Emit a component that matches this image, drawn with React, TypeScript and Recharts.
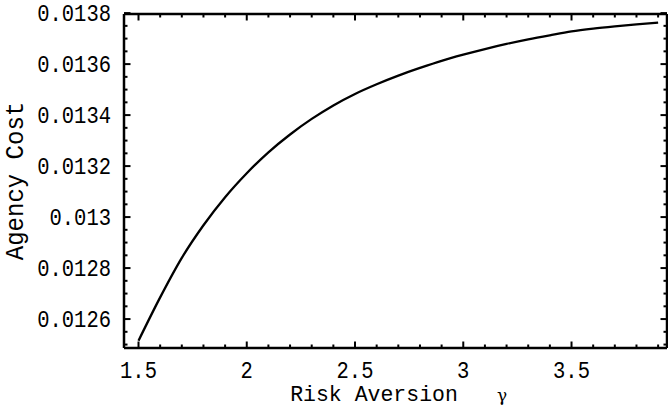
import React from 'react'
import { LineChart, Line, XAxis, YAxis } from 'recharts'

// risk aversion gamma vs agency cost
const GAMMA = [1.5, 1.6, 1.7, 1.8, 1.9, 2.0, 2.1, 2.2, 2.3, 2.4, 2.5, 2.6, 2.7, 2.8, 2.9, 3.0, 3.1, 3.2, 3.3, 3.4, 3.5, 3.6, 3.7, 3.8, 3.9]
const COST = [
  0.012515, 0.012685, 0.01284, 0.012968, 0.013078, 0.013172, 0.013254, 0.013324, 0.013385, 0.013438,
  0.013483, 0.013521, 0.013555, 0.013585, 0.013613, 0.013637, 0.013659, 0.013679, 0.013697, 0.013713,
  0.013728, 0.013739, 0.013748, 0.013756, 0.013763,
]

const X_MAJOR = [1.5, 2, 2.5, 3, 3.5]
const X_LABELS = ['1.5', '2', '2.5', '3', '3.5']
const X_TICKS = [1.5, 1.6, 1.7, 1.8, 1.9, 2, 2.1, 2.2, 2.3, 2.4, 2.5, 2.6, 2.7, 2.8, 2.9, 3, 3.1, 3.2, 3.3, 3.4, 3.5, 3.6, 3.7, 3.8, 3.9]

const Y_MAJOR = [0.0126, 0.0128, 0.013, 0.0132, 0.0134, 0.0136, 0.0138]
const Y_LABELS = ['0.0126', '0.0128', '0.013', '0.0132', '0.0134', '0.0136', '0.0138']
const Y_TICKS = [
  0.0125, 0.01255, 0.0126, 0.01265, 0.0127, 0.01275, 0.0128, 0.01285, 0.0129, 0.01295,
  0.013, 0.01305, 0.0131, 0.01315, 0.0132, 0.01325, 0.0133, 0.01335, 0.0134, 0.01345,
  0.0135, 0.01355, 0.0136, 0.01365, 0.0137, 0.01375, 0.0138,
]

const data = GAMMA.map((g, i) => ({ g, cost: COST[i] }))

const FONT = '"Liberation Mono", "DejaVu Sans Mono", monospace'
const INK = '#000'
const X_DOMAIN = [1.433, 3.941]
const Y_DOMAIN = [0.0124865, 0.0137965]

const findLabel = (v: number, majors: number[], labels: string[]) => {
  const i = majors.findIndex(m => Math.abs(m - v) < 1e-9)
  return i >= 0 ? labels[i] : null
}

// text stretched vertically a bit, the original font is taller than anything installed
function Tall({ x, y, sy = 1.15, rotate = 0, size = 20.5, anchor = 'middle', children }: any) {
  return (
    <text
      transform={`translate(${x} ${y}) rotate(${rotate}) scale(1 ${sy})`}
      textAnchor={anchor} fontFamily={FONT} fontSize={size} fill={INK}
    >
      {children}
    </text>
  )
}

function FrameTick(props: any) {
  const { x, y, payload, side } = props
  const v = payload.value
  const horiz = side === 'bottom' || side === 'top'
  const label = horiz ? findLabel(v, X_MAJOR, X_LABELS) : findLabel(v, Y_MAJOR, Y_LABELS)
  const len = label ? 6.5 : 3.5
  let x2 = x, y2 = y
  if (side === 'bottom') y2 = y - len
  if (side === 'top') y2 = y + len
  if (side === 'left') x2 = x + len
  if (side === 'right') x2 = x - len
  return (
    <g>
      <line x1={x} y1={y} x2={x2} y2={y2} stroke={INK} strokeWidth={2} />
      {label && side === 'bottom' && <Tall x={x} y={y + 30}>{label}</Tall>}
      {label && side === 'left' && <Tall x={x - 13} y={y + 8} anchor="end">{label}</Tall>}
    </g>
  )
}

export default function App() {
  return (
    <div style={{ position: 'absolute', left: 0, top: 0, background: '#fff' }}>
      <LineChart width={668} height={407} data={data} margin={{ top: 13, right: 0, bottom: 0, left: 0 }}>
        <XAxis
          xAxisId="b" dataKey="g" type="number" domain={X_DOMAIN} allowDataOverflow
          ticks={X_TICKS} interval={0} height={59} tickSize={0} tickMargin={0} tickLine={false}
          axisLine={{ stroke: INK, strokeWidth: 2.5 }}
          tick={(p: any) => <FrameTick {...p} side="bottom" />}
          label={() => (
            <g>
              <Tall x={374} y={401} size={21.5} sy={1.05}>Risk Aversion</Tall>
              <text x={502} y={401} textAnchor="middle" fontFamily='"DejaVu Serif", serif' fontSize={17} fill={INK}>γ</text>
            </g>
          )}
        />
        <XAxis
          xAxisId="t" dataKey="g" type="number" orientation="top" domain={X_DOMAIN} allowDataOverflow
          ticks={X_TICKS} interval={0} height={1} tickSize={0} tickMargin={0} tickLine={false}
          axisLine={{ stroke: INK, strokeWidth: 2.5 }}
          tick={(p: any) => <FrameTick {...p} side="top" />}
        />
        <YAxis
          yAxisId="l" type="number" domain={Y_DOMAIN} allowDataOverflow
          ticks={Y_TICKS} interval={0} width={124} tickSize={0} tickMargin={0} tickLine={false}
          axisLine={{ stroke: INK, strokeWidth: 2.5 }}
          tick={(p: any) => <FrameTick {...p} side="left" />}
          label={() => (
            <Tall x={23} y={181} rotate={-90} size={24} sy={1.05}>Agency Cost</Tall>
          )}
        />
        <YAxis
          yAxisId="r" orientation="right" type="number" domain={Y_DOMAIN} allowDataOverflow
          ticks={Y_TICKS} interval={0} width={1} tickSize={0} tickMargin={0} tickLine={false}
          axisLine={{ stroke: INK, strokeWidth: 2.5 }}
          tick={(p: any) => <FrameTick {...p} side="right" />}
        />
        <Line
          xAxisId="b" yAxisId="l" dataKey="cost" type="monotone" stroke={INK} strokeWidth={2.3}
          dot={false} isAnimationActive={false}
        />
      </LineChart>
    </div>
  )
}
